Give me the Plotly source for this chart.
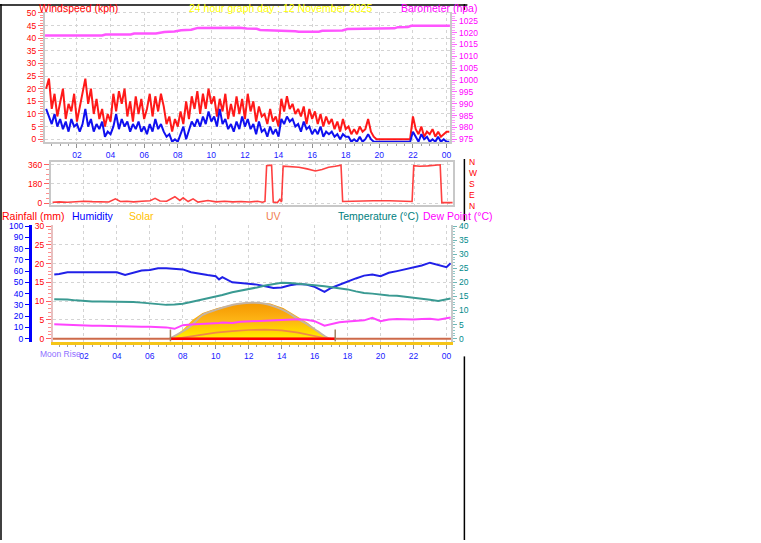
import plotly.graph_objects as go

W, H = 761, 543
def px(x): return x / W
def py(y): return 1 - y / H

FONT = "Liberation Sans, Arial, sans-serif"

# ---------------- DATA ----------------
hour_ticks = [2, 4, 6, 8, 10, 12, 14, 16, 18, 20, 22, 24]
hour_labels = ["02", "04", "06", "08", "10", "12", "14", "16", "18", "20", "22", "00"]

# wind, 10-minute samples from 00:10
wind_hours = [i / 6 for i in range(1, 146)]
gust_kph = [20, 24, 12, 18, 9, 15,
            20, 8, 14, 11, 18, 7,
            13, 19, 24, 14, 20, 10,
            16, 8, 12, 5, 10, 7,
            18, 11, 19, 14, 20, 9,
            15, 7, 17, 10, 16, 8,
            12, 18, 9, 17, 11, 18,
            13, 6, 9, 3, 8, 5,
            11, 6, 15, 8, 17, 12,
            19, 10, 18, 12, 20, 14,
            17, 9, 16, 11, 18, 8,
            14, 9, 17, 10, 16, 8,
            18, 11, 15, 7, 13, 9,
            10, 6, 12, 7, 9, 5,
            16, 11, 17, 12, 14, 10,
            12, 9, 13, 6, 12, 8,
            11, 6, 10, 5, 9, 6,
            8, 4, 7, 3, 8, 4,
            5, 2, 4, 2, 5, 3,
            4, 8, 3, 1, 0, 0,
            0, 0, 0, 0, 0, 0,
            0, 0, 0, 0, 0, 9,
            4, 2, 5, 1, 3, 2,
            4, 1, 3, 1, 2, 3,
            3]
avg_kph = [12, 9, 6, 10, 5, 8,
           4, 7, 3, 8, 5, 6,
           3, 6, 12, 5, 8, 3,
           6, 4, 7, 1, 3, 2,
           5, 10, 4, 8, 5, 7,
           3, 6, 4, 7, 3, 5,
           2, 6, 3, 8, 4, 6,
           3, 1, 2, -1, 0, -1,
           2, 5, 0, 4, 7, 5,
           8, 5, 9, 6, 11, 7,
           9, 5, 12, 6, 8, 4,
           6, 3, 7, 4, 9, 5,
           8, 4, 6, 2, 7, 3,
           4, 1, 5, 2, 4, 1,
           8, 6, 9, 7, 8, 5,
           6, 3, 7, 4, 5, 2,
           4, 2, 5, 1, 3, 2,
           3, 1, 2, 0, 2, 1,
           1, -1, 0, -1, 1, -1,
           0, 2, 0, -1, -1, -1,
           -1, -1, -1, -1, -1, -1,
           -1, -1, -1, -1, -1, 3,
           1, -1, 2, 0, 1, -1,
           0, -1, 1, -1, 0, -1,
           -1]

baro_hours = [0.1, 3.5, 3.7, 5.2, 5.4, 6.7, 7.2, 7.8, 8.2, 8.8, 9.2, 11.7, 12.1, 12.7,
              12.9, 14.0, 14.2, 15.0, 15.2, 16.4, 16.6, 17.8, 18.1, 19.6, 19.8, 20.9,
              21.1, 21.7, 21.9, 24.2]
baro_hpa = [1018.8, 1018.8, 1019.2, 1019.2, 1019.6, 1019.6, 1020.3, 1020.5, 1021.0, 1021.2,
            1022.0, 1022.1, 1021.7, 1021.6, 1021.1, 1021.0, 1020.7, 1020.6, 1020.4, 1020.4,
            1020.8, 1020.9, 1021.5, 1021.5, 1021.8, 1021.8, 1022.3, 1022.4, 1022.9, 1022.9]

dir_hours = [0.1, 0.5, 1.0, 1.5, 2.0, 2.5, 3.0, 3.5, 3.9, 4.2, 4.6, 5.0, 5.5, 6.0, 6.3, 6.6,
             7.0, 7.5, 7.8, 8.0, 8.3, 8.6, 8.9, 9.5, 10.0, 10.5, 11.0, 11.5, 12.0, 12.5,
             12.8, 12.95, 13.05, 13.2, 13.35, 13.45, 13.7, 13.85, 13.95, 14.05, 14.5, 15.0,
             15.5, 16.0, 16.4, 16.8, 17.2, 17.55, 17.65, 18.5, 19.5, 20.5, 21.5, 21.85,
             21.95, 22.3, 22.8, 23.2, 23.55, 23.65, 24.3]
dir_deg = [8, 12, 8, 15, 18, 14, 12, 10, 40, 15, 18, 12, 18, 22, 45, 20,
           18, 60, 25, 50, 15, 40, 10, 25, 12, 18, 12, 15, 10, 18,
           8, 15, 350, 355, 355, 10, 5, 35, 10, 345, 340, 335,
           320, 300, 315, 335, 345, 355, 15, 20, 22, 22, 22, 15,
           350, 345, 348, 352, 358, 5, 5]

env_hours = [0.2, 0.5, 1.0, 1.5, 2.0, 2.5, 3.0, 3.5, 4.0, 4.5, 5.0, 5.5, 6.0, 6.5, 7.0, 7.5,
             8.0, 8.5, 9.0, 9.5, 10.0, 10.2, 10.4, 11.0, 11.5, 12.0, 12.5, 13.0, 13.5, 14.0,
             14.5, 15.0, 15.5, 16.0, 16.6, 17.0, 17.5, 18.0, 18.5, 19.0, 19.5, 20.0, 20.5,
             21.0, 21.5, 22.0, 22.5, 23.0, 23.5, 24.0, 24.25]
humidity_pct = [57, 57.5, 59, 59, 58.5, 59, 58.5, 59, 59, 56.5, 58.5, 60.5, 61, 62.5, 62.5, 62,
                61.5, 59, 57.5, 56.5, 55.5, 52.6, 54.6, 50, 49.5, 49, 48, 46.5, 45, 45.5,
                47.5, 48.5, 48, 46, 41.5, 45, 48, 51, 53.5, 56, 57, 55.5, 58.5,
                60, 61.5, 63, 65, 67.5, 65.5, 63.5, 67]
temp_c = [14.0, 14.0, 13.9, 13.6, 13.3, 13.2, 13.2, 13.2, 13.2, 13.2, 13.0, 12.8, 12.5, 12.2,
          12.0, 12.1, 12.4, 13.0, 13.6, 14.2, 15.0, 15.3, 15.5, 16.5, 17.0, 17.5, 18.2, 18.9,
          19.5, 19.9, 19.8, 19.6, 19.3, 19.0, 18.6, 18.3, 18.0, 17.5, 16.8, 16.2, 16.0, 15.6,
          15.3, 15.2, 14.9, 14.5, 14.3, 13.8, 13.4, 14.0, 14.3]
dew_c = [5.1, 5.0, 5.0, 4.9, 4.7, 4.6, 4.6, 4.5, 4.4, 4.2, 4.3, 4.2, 4.2, 4.1, 4.0, 3.5,
         4.8, 5.0, 5.1, 5.3, 5.5, 5.6, 5.7, 5.6, 6.0, 6.1, 6.2, 6.3, 6.4, 6.6,
         6.8, 6.9, 6.7, 6.2, 4.6, 5.2, 5.8, 6.1, 6.3, 6.5, 7.4, 6.2, 6.8,
         7.0, 6.9, 6.8, 7.0, 7.1, 6.7, 7.2, 7.5]
rain_hours = [0.12, 24.3]
rain_mm = [0, 0]

solar_hours = [7.3, 7.5, 8.0, 8.6, 9.2, 10.1, 10.9, 11.7, 12.5, 13.3, 14.1, 15.0, 15.6, 16.2,
               16.8, 17.0]
solar_wm2 = [0, 20, 79, 167, 228, 272, 298, 318, 322, 313, 272, 196, 140, 64, 9, 0]
solar_max_hours = [7.2, 8.45, 9.2, 10.1, 11.3, 12.1, 12.9, 14.1, 15.0, 15.6, 16.2, 16.8, 17.0]
solar_max_wm2 = [0, 108, 210, 260, 307, 318, 313, 254, 173, 123, 64, 6, 0]
uv_hours = [7.6, 8.5, 9.0, 10.0, 11.0, 12.0, 13.0, 14.0, 15.0, 15.6, 16.2, 16.8]
uv_index = [0.0, 0.3, 0.5, 0.8, 1.0, 1.15, 1.2, 1.1, 0.8, 0.5, 0.3, 0.0]
sunrise_h = 7.25
sunset_h = 17.25

# ---------------- FIGURE ----------------
fig = go.Figure()

# top panel: wind + barometer
fig.add_trace(go.Scatter(x=wind_hours, y=gust_kph, mode="lines",
                         line=dict(color="rgba(255,0,0,0.9)", width=2), xaxis="x", yaxis="y"))
fig.add_trace(go.Scatter(x=wind_hours, y=avg_kph, mode="lines",
                         line=dict(color="#1010F0", width=2), xaxis="x", yaxis="y"))
fig.add_trace(go.Scatter(x=baro_hours, y=baro_hpa, mode="lines",
                         line=dict(color="#FF55FF", width=2.5), xaxis="x", yaxis="y2"))

# middle panel: wind direction
fig.add_trace(go.Scatter(x=dir_hours, y=dir_deg, mode="lines",
                         line=dict(color="rgba(255,30,30,0.85)", width=1.6), xaxis="x2", yaxis="y3"))

# bottom panel
fig.add_trace(go.Scatter(x=solar_hours, y=solar_wm2, mode="lines", fill="tozeroy",
                         line=dict(width=0, color="#F7A000"),
                         fillgradient=dict(type="vertical",
                                           colorscale=[[0, "#FFF000"], [0.25, "#FFD400"],
                                                       [0.5, "#FDB515"], [0.75, "#F9A50A"],
                                                       [1, "#F59A00"]]),
                         xaxis="x3", yaxis="y4"))
fig.add_trace(go.Scatter(x=solar_max_hours, y=solar_max_wm2, mode="lines", line_shape="spline",
                         line=dict(color="#C4B4A4", width=2), xaxis="x3", yaxis="y4"))
fig.add_trace(go.Scatter(x=uv_hours, y=uv_index, mode="lines",
                         line=dict(color="#F08848", width=1.6), xaxis="x3", yaxis="y5"))
fig.add_trace(go.Scatter(x=rain_hours, y=rain_mm, mode="lines",
                         line=dict(color="#CD6A4A", width=2), xaxis="x3", yaxis="y6"))
fig.add_trace(go.Scatter(x=[sunrise_h, sunset_h], y=[0, 0], mode="lines",
                         line=dict(color="#FF0000", width=2.5), xaxis="x3", yaxis="y6"))
for t in (sunrise_h, sunset_h):
    fig.add_trace(go.Scatter(x=[t, t], y=[-0.8, 2.4], mode="lines",
                             line=dict(color="#A08060", width=1.5), xaxis="x3", yaxis="y6"))
fig.add_trace(go.Scatter(x=env_hours, y=humidity_pct, mode="lines",
                         line=dict(color="#2020E8", width=2), xaxis="x3", yaxis="y7"))
fig.add_trace(go.Scatter(x=env_hours, y=temp_c, mode="lines",
                         line=dict(color="#3A9A92", width=2), xaxis="x3", yaxis="y8"))
fig.add_trace(go.Scatter(x=env_hours, y=dew_c, mode="lines",
                         line=dict(color="#FF44FF", width=2), xaxis="x3", yaxis="y8"))

GRID = "#D4D4D4"
AXL = "#C8C8C8"
tickfont = lambda c: dict(family=FONT, size=8.5, color=c)

def xax(dom, rng, anchor, labels=True, linecolor=AXL, lw=2, mirror=False):
    return dict(domain=[px(dom[0]), px(dom[1])], range=rng, anchor=anchor,
                tickmode="array", tickvals=hour_ticks, ticktext=hour_labels,
                showticklabels=labels, tickfont=tickfont("#2020FF"),
                ticks="outside" if labels else "", ticklen=4, tickcolor="#909090",
                minor=dict(dtick=0.5, tick0=0, ticks="outside" if labels else "",
                           ticklen=2, tickcolor="#A0A0A0", showgrid=False),
                showgrid=True, gridcolor=GRID, griddash="dot", gridwidth=1,
                showline=True, linecolor=linecolor, linewidth=lw, mirror=mirror,
                zeroline=False, fixedrange=True)

layout = dict(
    width=W, height=H, margin=dict(l=0, r=0, t=0, b=0),
    paper_bgcolor="white", plot_bgcolor="white", showlegend=False,
    font=dict(family=FONT),
    xaxis=xax((45, 451), [0.095, 24.23], "y"),
    yaxis=dict(domain=[py(140), py(8)], range=[-1.17, 50.4], anchor="x",
               tick0=0, dtick=5, tickfont=tickfont("#FF0000"),
               ticks="outside", ticklen=5, tickcolor="#FF6060",
               minor=dict(dtick=1, ticks="outside", ticklen=3, tickcolor="#FF9090", showgrid=False),
               showgrid=True, gridcolor=GRID, griddash="dot",
               showline=True, linecolor=AXL, linewidth=2, zeroline=False),
    yaxis2=dict(overlaying="y", side="right", anchor="x", range=[973.75, 1028.75],
                tick0=975, dtick=5, tickfont=tickfont("#FF00FF"),
                ticks="outside", ticklen=5, tickcolor="#FF66FF",
                minor=dict(dtick=1, ticks="outside", ticklen=3, tickcolor="#FF99FF", showgrid=False),
                showgrid=False, showline=True, linecolor=AXL, linewidth=2, zeroline=False),
    xaxis2=xax((51, 454), [0.0, 24.35], "y3", labels=False, mirror=True),
    yaxis3=dict(domain=[py(204), py(160)], range=[-21, 385], anchor="x2",
                tickmode="array", tickvals=[0, 180, 360], tickfont=tickfont("#FF0000"),
                ticks="outside", ticklen=5, tickcolor="#FF6060",
                minor=dict(dtick=45, tick0=0, ticks="outside", ticklen=3, tickcolor="#FF9090",
                           showgrid=False),
                showgrid=True, gridcolor=GRID, griddash="dot",
                showline=True, linecolor=AXL, linewidth=2, mirror=True, zeroline=False),
    xaxis3=xax((53, 452), [0.12, 24.30], "y4", linecolor="#F5C518", lw=3),
    yaxis4=dict(domain=[py(342), py(224)], range=[-26.3, 1008.8], anchor="x3",
                visible=False, showgrid=False, zeroline=False),
    yaxis5=dict(overlaying="y4", range=[-0.39, 15.13], visible=False, showgrid=False,
                zeroline=False),
    yaxis6=dict(overlaying="y4", anchor="x3", side="left", range=[-0.79, 30.26],
                tick0=0, dtick=5, tickfont=tickfont("#FF0000"),
                ticks="outside", ticklen=5, tickcolor="#FF6060",
                minor=dict(dtick=1, ticks="outside", ticklen=3, tickcolor="#FF9090", showgrid=False),
                showgrid=True, gridcolor=GRID, griddash="dot",
                showline=True, linecolor="#E8C0C0", linewidth=2, zeroline=False),
    yaxis7=dict(overlaying="y4", anchor="free", position=px(30), side="left",
                range=[-2.63, 100.88], tick0=0, dtick=10, tickfont=tickfont("#0000FF"),
                ticks="outside", ticklen=4, tickcolor="#0000FF",
                showgrid=False, showline=True, linecolor="#0000FF", linewidth=3, zeroline=False),
    yaxis8=dict(overlaying="y4", anchor="x3", side="right", range=[-1.05, 40.35],
                tick0=0, dtick=5, tickfont=tickfont("#008B8B"),
                ticks="outside", ticklen=4, tickcolor="#70B8B8",
                minor=dict(dtick=1, ticks="outside", ticklen=2, tickcolor="#90C8C8", showgrid=False),
                showgrid=False, showline=True, linecolor=AXL, linewidth=2, zeroline=False),
)
fig.update_layout(**layout)

def label(text, x, y, color, size=10.5, xref="paper", yref="paper", yv=None):
    fig.add_annotation(text=text, x=px(x), y=py(y) if yv is None else yv,
                       xref=xref, yref=yref, xanchor="left", yanchor="middle",
                       showarrow=False, font=dict(family=FONT, size=size, color=color))

label("Windspeed (kph)", 37, 4, "#FF0000")
label("24 hour graph day : 12 November 2025", 187, 4, "#FFFF00")
label("Barometer (hpa)", 400, 4, "#FF00FF")
label("Rainfall (mm)", 0, 215, "#FF0000")
label("Humidity", 70, 215, "#0000FF")
label("Solar", 127, 215, "#FFC000")
label("UV", 264, 215, "#F08050")
label("Temperature (°C)", 336, 215, "#008080")
label("Dew Point (°C)", 422, 215, "#FF00FF")
label("Moon Rise", 38, 355, "#8F6FFF", size=8.5)

# compass letters for the direction panel (single stacked text)
fig.add_annotation(text="N<br>W<br>S<br>E<br>N", x=px(468), y=180, xref="paper", yref="y3",
                   xanchor="left", yanchor="middle", showarrow=False, align="left",
                   font=dict(family=FONT, size=8.5, color="#FF0000"))

# black frame lines
frame = [(1, 0, 1, 543), (0, 1, 468, 1), (465, 0, 465, 6), (465, 157, 465, 220),
         (465, 357, 465, 543)]
for x0, y0, x1, y1 in frame:
    fig.add_shape(type="line", xref="paper", yref="paper",
                  x0=px(x0), y0=py(y0), x1=px(x1), y1=py(y1),
                  line=dict(color="black", width=1.5))

fig.write_html("out.html", config={"displayModeBar": False},
               post_script="document.body.style.margin='0';document.body.style.padding='0';"
                           "document.body.style.overflow='hidden';")
